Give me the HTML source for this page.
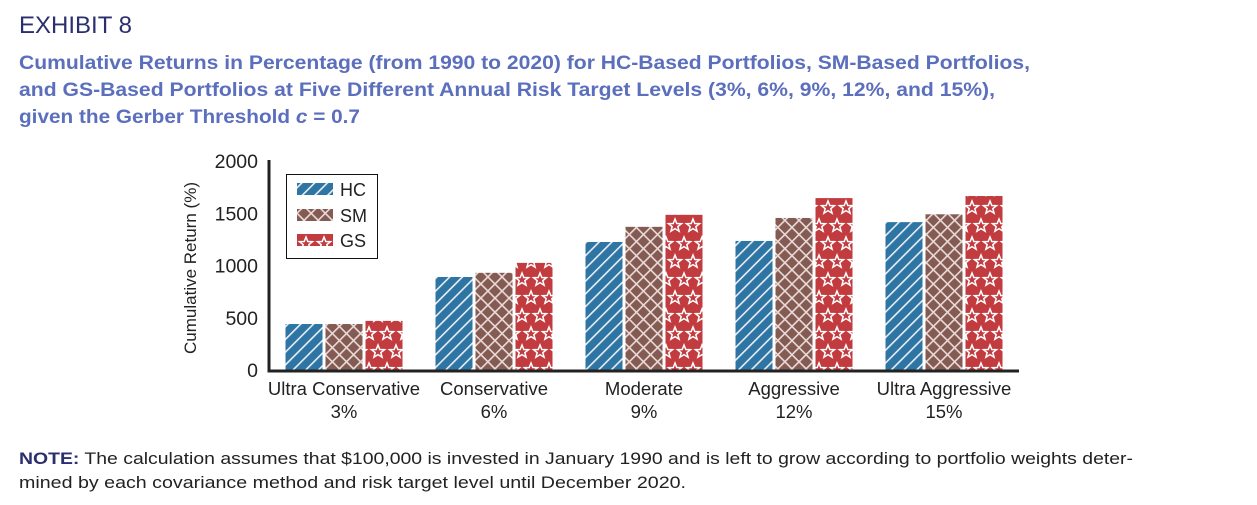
<!DOCTYPE html>
<html><head><meta charset="utf-8"><style>
html,body{margin:0;padding:0;background:#fff;}
svg{display:block;font-family:"Liberation Sans",sans-serif;}
</style></head><body>
<svg id="chart" width="1257" height="505" viewBox="0 0 1257 505">
<defs>
<pattern id="pHC" patternUnits="userSpaceOnUse" width="9" height="9" patternTransform="rotate(45)">
<rect width="9" height="9" fill="#2e75a4"/><rect x="0" y="0" width="1.6" height="9" fill="#e8eef5"/>
</pattern>
<pattern id="pSM" patternUnits="userSpaceOnUse" width="10" height="10" patternTransform="rotate(45)">
<rect width="10" height="10" fill="#845b52"/><rect x="0" y="0" width="1.6" height="10" fill="#eadbd8"/><rect x="0" y="0" width="10" height="1.6" fill="#eadbd8"/>
</pattern>
<pattern id="pGS" patternUnits="userSpaceOnUse" width="18" height="36">
<rect width="18" height="36" fill="#c23b3f"/>
<polygon points="9,3 10.8,7.5 15.5,7.7 11.8,10.6 13.1,15.2 9,12.6 4.9,15.2 6.2,10.6 2.5,7.7 7.2,7.5" fill="none" stroke="#fff" stroke-width="1.5"/>
<polygon points="0,21 1.8,25.5 6.5,25.7 2.8,28.6 4.1,33.2 0,30.6 -4.1,33.2 -2.8,28.6 -6.5,25.7 -1.8,25.5" fill="none" stroke="#fff" stroke-width="1.5"/>
<polygon points="18,21 19.8,25.5 24.5,25.7 20.8,28.6 22.1,33.2 18,30.6 13.9,33.2 15.2,28.6 11.5,25.7 16.2,25.5" fill="none" stroke="#fff" stroke-width="1.5"/>
</pattern>
</defs>
<text x="19" y="33" font-size="24" fill="#2b2f6e">EXHIBIT 8</text>
<g fill="#5b6fbd" font-size="19.5" font-weight="bold">
<text x="19" y="69" textLength="1011" lengthAdjust="spacingAndGlyphs">Cumulative Returns in Percentage (from 1990 to 2020) for HC-Based Portfolios, SM-Based Portfolios,</text>
<text x="19" y="96" textLength="976" lengthAdjust="spacingAndGlyphs">and GS-Based Portfolios at Five Different Annual Risk Target Levels (3%, 6%, 9%, 12%, and 15%),</text>
<text x="19" y="123" textLength="341" lengthAdjust="spacingAndGlyphs">given the Gerber Threshold <tspan font-style="italic">c</tspan> = 0.7</text>
</g>
<g id="yaxis"></g>
<g id="bars"></g>
<g id="xaxis"></g>
<text transform="translate(196,268) rotate(-90)" text-anchor="middle" font-size="17" fill="#222" textLength="172" lengthAdjust="spacingAndGlyphs">Cumulative Return (%)</text>
<g>
<rect x="286.5" y="174.5" width="91" height="84" fill="#fff" stroke="#111" stroke-width="1"/>
<g><rect x="297" y="183" width="36" height="12" fill="url(#pHC)"/><text x="340" y="196" font-size="18" fill="#222">HC</text></g>
<g><rect x="297" y="209" width="36" height="12" fill="url(#pSM)"/><text x="340" y="222" font-size="18" fill="#222">SM</text></g>
<g><rect x="297" y="234" width="36" height="12" fill="url(#pGS)"/><text x="340" y="247" font-size="18" fill="#222">GS</text></g>
</g>
<g fill="#222" font-size="16.5">
<text x="19" y="464" textLength="1114" lengthAdjust="spacingAndGlyphs"><tspan fill="#2b2f6e" font-weight="bold">NOTE:</tspan> The calculation assumes that $100,000 is invested in January 1990 and is left to grow according to portfolio weights deter-</text>
<text x="19" y="488" textLength="667" lengthAdjust="spacingAndGlyphs">mined by each covariance method and risk target level until December 2020.</text>
</g>
</svg>
<script>
const categories = ["Ultra Conservative", "Conservative", "Moderate", "Aggressive", "Ultra Aggressive"];
const riskLabels = ["3%", "6%", "9%", "12%", "15%"];
const seriesNames = ["HC", "SM", "GS"];
const hcValues = [440, 890, 1225, 1235, 1415];
const smValues = [440, 930, 1370, 1455, 1490];
const gsValues = [470, 1025, 1485, 1645, 1665];
const yTicks = [0, 500, 1000, 1500, 2000];

const NS = "http://www.w3.org/2000/svg";
const x0 = 269, bandW = 150, y0 = 370, yTop = 161, yMax = 2000;
const yScale = v => y0 - (v / yMax) * (y0 - yTop);
const bandCenter = i => x0 + bandW * (i + 0.5);
function mk(tag, attrs, parent) {
  const e = document.createElementNS(NS, tag);
  for (const k in attrs) e.setAttribute(k, attrs[k]);
  parent.appendChild(e); return e;
}
const ya = document.getElementById("yaxis"), ba = document.getElementById("bars"), xa = document.getElementById("xaxis");
yTicks.forEach(t => {
  const tx = mk("text", {x: 258, y: yScale(t) + 7, "text-anchor": "end", "font-size": 19.5, fill: "#222"}, ya);
  tx.textContent = t;
  
  
});
const series = [hcValues, smValues, gsValues];
const fills = ["url(#pHC)", "url(#pSM)", "url(#pGS)"];
const barW = 37, gap = 3;
categories.forEach((c, i) => {
  const cx = bandCenter(i);
  series.forEach((vals, s) => {
    const x = cx - 1.5 * barW - gap + s * (barW + gap);
    const r = mk("rect", {x: x, y: yScale(vals[i]), width: barW, height: y0 - yScale(vals[i]), fill: fills[s]}, ba);
    
    
  });
  const t1 = mk("text", {x: cx, y: 395, "text-anchor": "middle", "font-size": 18.5, fill: "#222"}, xa);
  t1.textContent = c;
  
  
  const t2 = mk("text", {x: cx, y: 418, "text-anchor": "middle", "font-size": 18.5, fill: "#222"}, xa);
  t2.textContent = riskLabels[i];
  
  
});
const yl = mk("line", {x1: x0, y1: yTop - 1, x2: x0, y2: y0 + 2, stroke: "#222", "stroke-width": 3}, ya);


const xl = mk("line", {x1: x0 - 1.5, y1: y0 + 1, x2: x0 + bandW * categories.length, y2: y0 + 1, stroke: "#222", "stroke-width": 3}, xa);


</script>
</body></html>
